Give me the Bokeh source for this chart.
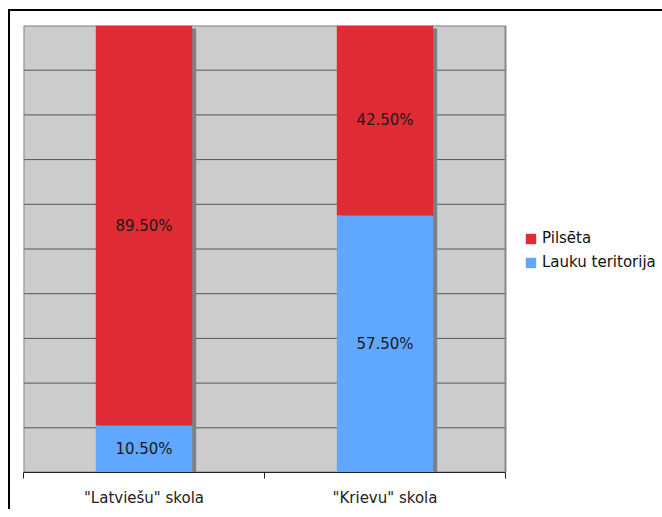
import numpy as np
from bokeh.plotting import figure
from bokeh.models import (Range1d, FixedTicker, Legend, LegendItem, ColumnDataSource)
from bokeh.transform import dodge
from bokeh.core.properties import value
from bokeh.embed import file_html
from bokeh.resources import INLINE

# School groups and the share of pupils by place of residence (%)
schools = ['"Latviešu" skola', '"Krievu" skola']
lauku = [10.5, 57.5]      # Lauku teritorija
pilseta = [89.5, 42.5]    # Pilsēta
series_names = ["Pilsēta", "Lauku teritorija"]
grid_steps = list(range(10, 100, 10))

RED = "#DF2C34"
BLUE = "#60A8FF"
FONT = "DejaVu Sans"
FSIZE = "15px"

n = len(schools)
xs = np.arange(n) + 0.5
lauku_a = np.array(lauku)
pils_a = np.array(pilseta)
totals = lauku_a + pils_a

src = ColumnDataSource(dict(
    x=xs,
    top_l=lauku_a,
    top_p=totals,
    shadow_top=totals - 0.67,
    mid_l=lauku_a / 2,
    mid_p=lauku_a + pils_a / 2,
    lab_l=[f"{v:.2f}%" for v in lauku_a],
    lab_p=[f"{v:.2f}%" for v in pils_a],
))

# plot area spans 482 px for the categories; the rest of the frame holds the legend
AREA_PX = 482
FRAME_PX = 639
p = figure(frame_width=FRAME_PX, frame_height=447,
           x_range=Range1d(0, n * FRAME_PX / AREA_PX), y_range=Range1d(0, 100),
           output_backend="svg", toolbar_location=None,
           min_border_left=13, min_border_top=14, min_border_bottom=35,
           min_border_right=0)

# outer black frame of the chart (left and top edges)
p.styles = {"margin-left": "8px", "margin-top": "9px",
            "border-left": "2px solid black", "border-top": "2px solid black",
            "box-sizing": "content-box", "overflow": "hidden"}

p.background_fill_color = "white"
p.border_fill_color = "white"
p.outline_line_color = None
p.xgrid.visible = False
p.ygrid.visible = False
p.yaxis.visible = False

# grey plot area
p.quad(left=0, right=n, bottom=0, top=100, fill_color="#CCCCCC", line_color=None)
# horizontal grid every 10 %
p.segment(x0=0, x1=n, y0=grid_steps, y1=grid_steps, line_color="#555555", line_width=1)
# plot area border
p.quad(left=0, right=n, bottom=0, top=100, fill_color=None,
       line_color="#888888", line_width=2)

# category axis: names in the middle, small ticks on the boundaries
xa = p.xaxis[0]
xa.bounds = (0, n)
xa.ticker = FixedTicker(ticks=list(xs), minor_ticks=list(range(n + 1)))
xa.major_label_overrides = {float(x): s for x, s in zip(xs, schools)}
xa.major_tick_line_color = None
xa.major_tick_out = 0
xa.major_tick_in = 0
xa.minor_tick_line_color = "#222222"
xa.minor_tick_out = 6
xa.minor_tick_in = 0
xa.axis_line_color = "#222222"
xa.axis_line_width = 1
xa.major_label_standoff = 10
xa.major_label_text_font = FONT
xa.major_label_text_font_size = FSIZE
xa.major_label_text_color = "#222222"

# drop shadow to the right of each bar
p.vbar(x=dodge("x", 0.0166, range=p.x_range), top="shadow_top", bottom=0,
       width=0.4, source=src, fill_color="#808080", line_color=None)

r_l = p.vbar(x="x", bottom=0, top="top_l", width=0.4, source=src,
             fill_color=BLUE, line_color=None)
r_p = p.vbar(x="x", bottom="top_l", top="top_p", width=0.4, source=src,
             fill_color=RED, line_color=None)

for y, lab in (("mid_l", "lab_l"), ("mid_p", "lab_p")):
    p.text(x="x", y=y, text=lab, source=src, text_align="center",
           text_baseline="middle", text_font=value(FONT),
           text_font_size=FSIZE, text_color="#1A1A1A")

legend = Legend(items=[LegendItem(label=series_names[0], renderers=[r_p]),
                       LegendItem(label=series_names[1], renderers=[r_l])],
                location=(AREA_PX + 19, 200), orientation="vertical")
legend.border_line_color = None
legend.background_fill_alpha = 0
legend.margin = 0
legend.padding = 0
legend.spacing = 4
legend.glyph_width = 13
legend.glyph_height = 13
legend.label_height = 20
legend.label_standoff = 5
legend.label_text_font = FONT
legend.label_text_font_size = FSIZE
legend.label_text_color = "#111111"
p.add_layout(legend)

open("out.html", "w").write(file_html(p, INLINE))
